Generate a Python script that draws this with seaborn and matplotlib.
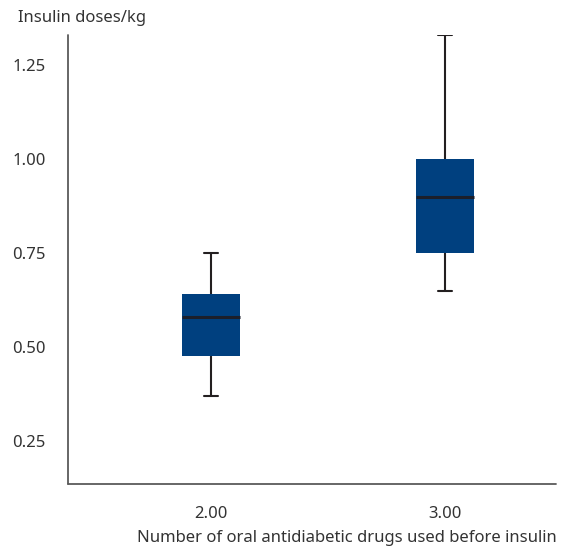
import numpy as np
import pandas as pd
import matplotlib
matplotlib.use("Agg")
import matplotlib.pyplot as plt
import seaborn as sns

# five values per group: min, Q1, median, Q3, max
n_drugs = [2.0, 3.0]
xtick_labels = ["2.00", "3.00"]
dose_2 = [0.37, 0.476, 0.58, 0.64, 0.75]
dose_3 = [0.65, 0.75, 0.90, 1.00, 1.33]
ytick_vals = [0.25, 0.50, 0.75, 1.00, 1.25]
ytick_labels = ["0.25", "0.50", "0.75", "1.00", "1.25"]

df = pd.DataFrame({
    "drugs": [n_drugs[0]] * len(dose_2) + [n_drugs[1]] * len(dose_3),
    "dose": dose_2 + dose_3,
})

sns.set_style("white")
plt.rcParams["font.family"] = ["Noto Sans", "DejaVu Sans"]
txt = "#333333"
axcol = "#5a5a5a"
fs = 12

fig = plt.figure(figsize=(5.69, 5.51), dpi=100)
ax = fig.add_axes([68 / 569, 1 - 484 / 551, (556 - 68) / 569, (484 - 35) / 551])

sns.boxplot(data=df, x="drugs", y="dose", native_scale=True, width=0.25,
            whis=(0, 100), color="#00407f", saturation=1, fill=True,
            linecolor="#231f20", linewidth=1.5,
            boxprops={"edgecolor": "#00407f", "linewidth": 0},
            medianprops={"color": "#1c1f2a", "linewidth": 2.2},
            capwidths=0.062, ax=ax)

ax.set_xlim(1.389, 3.474)
ax.set_ylim(0.136, 1.33)
ax.set_xticks(n_drugs, labels=xtick_labels)
ax.set_yticks(ytick_vals, labels=ytick_labels)

# ticks sit a little apart from the axis lines
for s in ["top", "right"]:
    ax.spines[s].set_visible(False)
ax.spines["bottom"].set_position(("outward", 9))
ax.spines["left"].set_position(("outward", 2))
ax.spines["bottom"].set_visible(False)
ax.spines["left"].set_visible(False)
ax.axhline(ax.get_ylim()[0], color=axcol, lw=1.3, clip_on=False)
ax.axvline(ax.get_xlim()[0], color=axcol, lw=1.3, clip_on=False)

ax.tick_params(axis="x", length=3, width=1.1, color=axcol, pad=4,
               labelsize=fs, labelcolor=txt)
ax.tick_params(axis="y", length=9, width=1.1, color=axcol, pad=5,
               labelsize=fs, labelcolor=txt)

ax.set_xlabel("")
ax.set_ylabel("")
fig.text(18 / 569, 1 - 18 / 551, "Insulin doses/kg", ha="left", va="center",
         fontsize=fs, color=txt)
fig.text(557 / 569, 1 - 538 / 551, "Number of oral antidiabetic drugs used before insulin",
         ha="right", va="center", fontsize=fs, color=txt)

fig.savefig("out.png", dpi=100)
